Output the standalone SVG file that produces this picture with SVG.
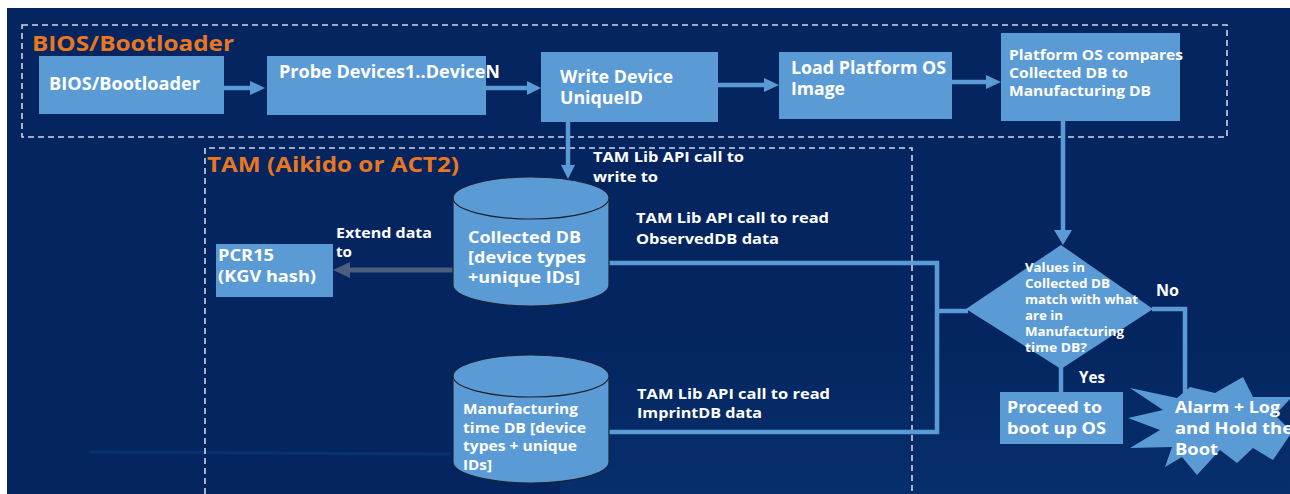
<svg xmlns="http://www.w3.org/2000/svg" width="1290" height="494" viewBox="0 0 1290 494">
<defs>
<style>
.bg{fill:#04255f}
.box{fill:#5b9bd5}
.t{font-family:"Open Sans","Liberation Sans",sans-serif;font-weight:bold;fill:#ffffff}
.lbl{font-family:"Open Sans","Liberation Sans",sans-serif;font-weight:bold;fill:#e87722;font-size:21px}
.dash{fill:none;stroke:#d0d6e4;stroke-width:1.6;stroke-dasharray:6 4}
.con{fill:none;stroke:#5b9bd5;stroke-width:4.5}
.head{fill:#5b9bd5}
.cyl{fill:#5b9bd5;stroke:#1b2436;stroke-width:1.2}
</style>
<linearGradient id="glow" x1="0" y1="0" x2="0" y2="1">
<stop offset="0" stop-color="#0a3f80" stop-opacity="0"/>
<stop offset="1" stop-color="#0a3f80" stop-opacity="0.4"/>
</linearGradient>
</defs>
<rect x="0" y="0" width="1290" height="494" fill="#ffffff"/>
<rect class="bg" x="7" y="8" width="1283" height="486"/>
<rect x="560" y="330" width="730" height="164" fill="url(#glow)"/>
<line x1="90" y1="452" x2="450" y2="454" stroke="#0b3f80" stroke-width="3" opacity="0.5"/>

<g id="groups">
<rect class="dash" x="22" y="25" width="1205" height="112"/>
<path class="dash" d="M205,494 L205,148 L912,148 L912,494"/>
<text class="lbl" x="32" y="51" textLength="202" lengthAdjust="spacingAndGlyphs">BIOS/Bootloader</text>
<text class="lbl" x="207" y="172" textLength="252" lengthAdjust="spacingAndGlyphs">TAM (Aikido or ACT2)</text>
</g>

<g id="connectors">
<line class="con" x1="224" y1="88" x2="251" y2="88"/>
<polygon class="head" points="250,81 265,88 250,95"/>
<line class="con" x1="486" y1="88" x2="528" y2="88"/>
<polygon class="head" points="527,81 541,88 527,95"/>
<line class="con" x1="718" y1="85" x2="765" y2="85"/>
<polygon class="head" points="764,78 779,85 764,92"/>
<line class="con" x1="952" y1="82" x2="987" y2="82"/>
<polygon class="head" points="986,75 1001,82 986,89"/>
<line class="con" x1="568" y1="122" x2="568" y2="166"/>
<polygon class="head" points="561,165 568,179 575,165"/>
<line class="con" x1="1063" y1="121" x2="1063" y2="232"/>
<polygon class="head" points="1054,230 1063,245 1072,230"/>
<line x1="453" y1="270" x2="348" y2="270" stroke="#4d5d7d" stroke-width="5"/>
<polygon points="350,262 333,270 350,278" fill="#4d5d7d"/>
<polyline class="con" points="609,263 937,263 937,432 609,432"/>
<line class="con" x1="937" y1="311" x2="968" y2="311"/>
<polyline class="con" points="1152,309 1185,309 1185,396"/>
<line class="con" x1="1061" y1="367" x2="1061" y2="393"/>
<text class="t" x="593" y="162" font-size="15" textLength="151" lengthAdjust="spacingAndGlyphs">TAM Lib API call to</text>
<text class="t" x="593" y="182" font-size="15" textLength="65" lengthAdjust="spacingAndGlyphs">write to</text>
<text class="t" x="636" y="223" font-size="15" textLength="193" lengthAdjust="spacingAndGlyphs">TAM Lib API call to read</text>
<text class="t" x="636" y="244" font-size="15" textLength="143" lengthAdjust="spacingAndGlyphs">ObservedDB data</text>
<text class="t" x="637" y="399" font-size="15" textLength="193" lengthAdjust="spacingAndGlyphs">TAM Lib API call to read</text>
<text class="t" x="637" y="418" font-size="15" textLength="125" lengthAdjust="spacingAndGlyphs">ImprintDB data</text>
<text class="t" x="336" y="238" font-size="15" textLength="96" lengthAdjust="spacingAndGlyphs">Extend data</text>
<text class="t" x="336" y="257" font-size="15" textLength="16" lengthAdjust="spacingAndGlyphs">to</text>
<text class="t" x="1156" y="296" font-size="15.5" textLength="23" lengthAdjust="spacingAndGlyphs">No</text>
<text class="t" x="1079" y="383" font-size="15.5" textLength="26" lengthAdjust="spacingAndGlyphs">Yes</text>
</g>

<g id="bios">
<rect class="box" x="39" y="56" width="185" height="58"/>
<text class="t" x="49" y="90" font-size="17" textLength="151" lengthAdjust="spacingAndGlyphs">BIOS/Bootloader</text>
</g>
<g id="probe">
<rect class="box" x="267" y="56" width="219" height="59"/>
<text class="t" x="279" y="78" font-size="17" textLength="221" lengthAdjust="spacingAndGlyphs">Probe Devices1..DeviceN</text>
</g>
<g id="write">
<rect class="box" x="541" y="52" width="177" height="70"/>
<text class="t" x="560" y="83" font-size="17" textLength="113" lengthAdjust="spacingAndGlyphs">Write Device</text>
<text class="t" x="560" y="104" font-size="17" textLength="83" lengthAdjust="spacingAndGlyphs">UniqueID</text>
</g>
<g id="load">
<rect class="box" x="779" y="52" width="173" height="67"/>
<text class="t" x="791" y="74" font-size="17" textLength="155" lengthAdjust="spacingAndGlyphs">Load Platform OS</text>
<text class="t" x="791" y="95" font-size="17" textLength="54" lengthAdjust="spacingAndGlyphs">Image</text>
</g>
<g id="compare">
<rect class="box" x="1001" y="33" width="179" height="88"/>
<text class="t" x="1009" y="60" font-size="15" textLength="174" lengthAdjust="spacingAndGlyphs">Platform OS compares</text>
<text class="t" x="1009" y="78" font-size="15" textLength="119" lengthAdjust="spacingAndGlyphs">Collected DB to</text>
<text class="t" x="1009" y="96" font-size="15" textLength="142" lengthAdjust="spacingAndGlyphs">Manufacturing DB</text>
</g>
<g id="collected">
<path class="cyl" d="M453,198 L453,285 A78,21 0 0,0 609,285 L609,198 Z"/>
<ellipse class="cyl" cx="531" cy="198" rx="78" ry="21"/>
<text class="t" x="468" y="243" font-size="16" textLength="113" lengthAdjust="spacingAndGlyphs">Collected DB</text>
<text class="t" x="468" y="263" font-size="16" textLength="118" lengthAdjust="spacingAndGlyphs">[device types</text>
<text class="t" x="468" y="283" font-size="16" textLength="112" lengthAdjust="spacingAndGlyphs">+unique IDs]</text>
</g>
<g id="manufacturing">
<path class="cyl" d="M453,376 L453,462 A78,21 0 0,0 609,462 L609,376 Z"/>
<ellipse class="cyl" cx="531" cy="376" rx="78" ry="21"/>
<text class="t" x="463" y="414" font-size="15" textLength="115" lengthAdjust="spacingAndGlyphs">Manufacturing</text>
<text class="t" x="463" y="433" font-size="15" textLength="123" lengthAdjust="spacingAndGlyphs">time DB [device</text>
<text class="t" x="463" y="451" font-size="15" textLength="114" lengthAdjust="spacingAndGlyphs">types + unique</text>
<text class="t" x="463" y="470" font-size="15" textLength="29" lengthAdjust="spacingAndGlyphs">IDs]</text>
</g>
<g id="pcr15">
<rect class="box" x="216" y="244" width="117" height="53"/>
<text class="t" x="218" y="261" font-size="16" textLength="56" lengthAdjust="spacingAndGlyphs">PCR15</text>
<text class="t" x="218" y="282" font-size="16" textLength="98" lengthAdjust="spacingAndGlyphs">(KGV hash)</text>
</g>
<g id="decision">
<polygon class="box" points="1061,245 1153,309 1061,369 966,309"/>
<text class="t" x="1025" y="272" font-size="12.5" textLength="60" lengthAdjust="spacingAndGlyphs">Values in</text>
<text class="t" x="1025" y="288" font-size="12.5" textLength="85" lengthAdjust="spacingAndGlyphs">Collected DB</text>
<text class="t" x="1025" y="304" font-size="12.5" textLength="113" lengthAdjust="spacingAndGlyphs">match with what</text>
<text class="t" x="1025" y="320" font-size="12.5" textLength="38" lengthAdjust="spacingAndGlyphs">are in</text>
<text class="t" x="1025" y="336" font-size="12.5" textLength="99" lengthAdjust="spacingAndGlyphs">Manufacturing</text>
<text class="t" x="1025" y="352" font-size="12.5" textLength="62" lengthAdjust="spacingAndGlyphs">time DB?</text>
</g>
<g id="proceed">
<rect class="box" x="1000" y="392" width="123" height="52"/>
<text class="t" x="1007" y="413" font-size="16" textLength="95" lengthAdjust="spacingAndGlyphs">Proceed to</text>
<text class="t" x="1007" y="434" font-size="16" textLength="99" lengthAdjust="spacingAndGlyphs">boot up OS</text>
</g>
<g id="alarm">
<polygon class="box" points="1130,388 1177,398 1190,387 1215,393 1243,377 1253,397 1292,397 1275,415 1292,432 1273,460 1253,448 1237,463 1220,450 1197,475 1182,457 1165,467 1172,447 1130,448 1160,430 1128,418 1163,410"/>
<text class="t" x="1175" y="413" font-size="16" textLength="105" lengthAdjust="spacingAndGlyphs">Alarm + Log</text>
<text class="t" x="1175" y="434" font-size="16" textLength="118" lengthAdjust="spacingAndGlyphs">and Hold the</text>
<text class="t" x="1175" y="455" font-size="16" textLength="43" lengthAdjust="spacingAndGlyphs">Boot</text>
</g>
</svg>
